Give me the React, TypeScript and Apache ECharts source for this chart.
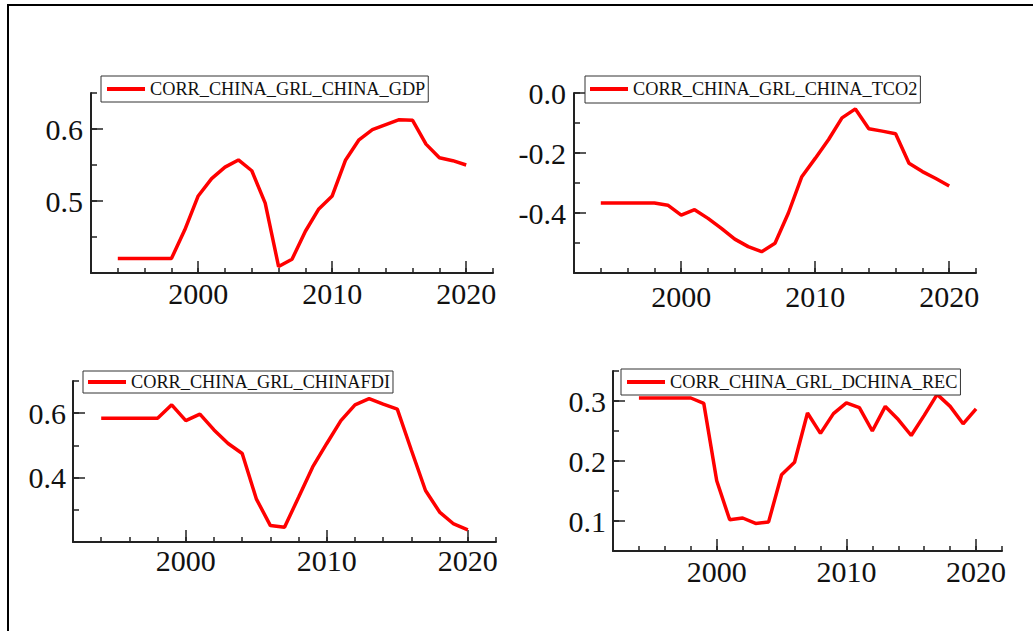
import React, { useEffect, useRef } from "react";
import * as echarts from "echarts";

const years = [1994, 1995, 1996, 1997, 1998, 1999, 2000, 2001, 2002, 2003, 2004, 2005, 2006, 2007, 2008, 2009, 2010, 2011, 2012, 2013, 2014, 2015, 2016, 2017, 2018, 2019, 2020];

const gdp = [0.42, 0.42, 0.42, 0.42, 0.42, 0.46, 0.507, 0.531, 0.547, 0.557, 0.542, 0.497, 0.409, 0.419, 0.458, 0.489, 0.507, 0.557, 0.585, 0.599, 0.606, 0.613, 0.612, 0.579, 0.56, 0.556, 0.55];
const tco2 = [-0.367, -0.367, -0.367, -0.367, -0.367, -0.374, -0.407, -0.389, -0.418, -0.451, -0.487, -0.512, -0.529, -0.501, -0.4, -0.279, -0.218, -0.155, -0.083, -0.053, -0.119, -0.127, -0.136, -0.234, -0.262, -0.285, -0.31];
const fdi = [0.584, 0.584, 0.584, 0.584, 0.584, 0.626, 0.577, 0.597, 0.548, 0.506, 0.475, 0.334, 0.251, 0.246, 0.339, 0.433, 0.506, 0.577, 0.626, 0.645, 0.628, 0.6125, 0.485, 0.36, 0.293, 0.256, 0.238];
const rec = [0.305, 0.305, 0.305, 0.305, 0.305, 0.296, 0.167, 0.102, 0.105, 0.096, 0.0985, 0.177, 0.198, 0.28, 0.246, 0.279, 0.297, 0.289, 0.25, 0.291, 0.269, 0.2425, 0.276, 0.311, 0.291, 0.262, 0.287];

const seriesNames = [
  "CORR_CHINA_GRL_CHINA_GDP",
  "CORR_CHINA_GRL_CHINA_TCO2",
  "CORR_CHINA_GRL_CHINAFDI",
  "CORR_CHINA_GRL_DCHINA_REC",
];

const xMajorTicks = [2000, 2010, 2020];
const yMajorTicks1 = [0.5, 0.6];
const yMajorTicks2 = [-0.4, -0.2, 0.0];
const yMajorTicks3 = [0.4, 0.6];
const yMajorTicks4 = [0.1, 0.2, 0.3];

const FONT = "Liberation Serif";
const AXIS_COLOR = "#222";

const panels = [
  { grid: { left: 91, top: 93, width: 402, height: 180 }, y: { min: 0.4, max: 0.65, interval: 0.05 }, major: yMajorTicks1, data: gdp, xMargin: 5, yMargin: 8, legend: { left: 101, top: 76, padding: [4, 3, 4, 6] } },
  { grid: { left: 574, top: 93, width: 402, height: 180 }, y: { min: -0.6, max: 0.0, interval: 0.1 }, major: yMajorTicks2, data: tco2, xMargin: 8, yMargin: 8, legend: { left: 585, top: 76, padding: [4, 3, 5, 5] } },
  { grid: { left: 73, top: 381, width: 423, height: 161 }, y: { min: 0.2, max: 0.7, interval: 0.1 }, major: yMajorTicks3, data: fdi, xMargin: 3, yMargin: 7, legend: { left: 83, top: 371, padding: [2, 3, 2, 5] } },
  { grid: { left: 613, top: 371, width: 389, height: 180 }, y: { min: 0.05, max: 0.35, interval: 0.05 }, major: yMajorTicks4, data: rec, xMargin: 5, yMargin: 7, legend: { left: 621, top: 369, padding: [4, 3, 4, 6] } },
];

export default function App() {
  const ref = useRef<HTMLDivElement>(null);
  useEffect(() => {
    if (!ref.current) return;
    const chart = echarts.init(ref.current, undefined, { renderer: "svg" });
    const grids: any[] = [];
    const xAxes: any[] = [];
    const yAxes: any[] = [];
    const series: any[] = [];
    const legends: any[] = [];
    panels.forEach((p, i) => {
      grids.push({ ...p.grid });
      const xBase = { type: "value", gridIndex: i, min: 1992, max: 2022, position: "bottom", splitLine: { show: false } };
      xAxes.push({
        ...xBase,
        interval: 2,
        axisLine: { show: true, onZero: false, lineStyle: { color: AXIS_COLOR, width: 2 } },
        axisTick: { show: true, inside: true, length: 5, lineStyle: { color: AXIS_COLOR, width: 1.5 } },
        axisLabel: { show: false },
      });
      xAxes.push({
        ...xBase,
        offset: 0,
        axisLine: { show: false, onZero: false },
        axisTick: { show: true, inside: true, length: 12, customValues: xMajorTicks, lineStyle: { color: AXIS_COLOR, width: 1.5 } },
        axisLabel: { show: true, customValues: xMajorTicks, margin: p.xMargin, fontFamily: FONT, fontSize: 30, color: "#111", formatter: (v: number) => String(v) },
      });
      const yBase = { type: "value", gridIndex: i, min: p.y.min, max: p.y.max, position: "left", splitLine: { show: false } };
      yAxes.push({
        ...yBase,
        interval: p.y.interval,
        axisLine: { show: true, onZero: false, lineStyle: { color: AXIS_COLOR, width: 2 } },
        axisTick: { show: true, inside: true, length: 6, lineStyle: { color: AXIS_COLOR, width: 1.5 } },
        axisLabel: { show: false },
      });
      yAxes.push({
        ...yBase,
        offset: 0,
        axisLine: { show: false, onZero: false },
        axisTick: { show: true, inside: true, length: 12, customValues: p.major, lineStyle: { color: AXIS_COLOR, width: 1.5 } },
        axisLabel: { show: true, customValues: p.major, margin: p.yMargin, fontFamily: FONT, fontSize: 30, color: "#111", formatter: (v: number) => v.toFixed(1) },
      });
      series.push({
        name: seriesNames[i],
        type: "line",
        xAxisIndex: i * 2,
        yAxisIndex: i * 2,
        data: years.map((yr, k) => [yr, p.data[k]]),
        symbol: "none",
        lineStyle: { color: "#ff0000", width: 3.5 },
        itemStyle: { color: "#ff0000" },
      });
      legends.push({
        data: [seriesNames[i]],
        left: p.legend.left,
        top: p.legend.top,
        padding: p.legend.padding,
        icon: "rect",
        itemWidth: 38,
        itemHeight: 4,
        borderColor: "#333",
        borderWidth: 1,
        borderRadius: 0,
        backgroundColor: "#fff",
        selectedMode: false,
        textStyle: { fontFamily: FONT, fontSize: 18.3, color: "#111" },
      });
    });
    chart.setOption({
      animation: false,
      backgroundColor: "#fff",
      grid: grids,
      xAxis: xAxes,
      yAxis: yAxes,
      series,
      legend: legends,
      graphic: [
        { type: "rect", shape: { x: 8, y: 5, width: 1060, height: 660 }, style: { fill: "none", stroke: "#000", lineWidth: 2 }, silent: true },
      ],
    });
    return () => chart.dispose();
  }, []);
  return (
    <div
      ref={ref}
      style={{ position: "fixed", left: 0, top: 0, width: 1033, height: 631, background: "#fff" }}
    />
  );
}
